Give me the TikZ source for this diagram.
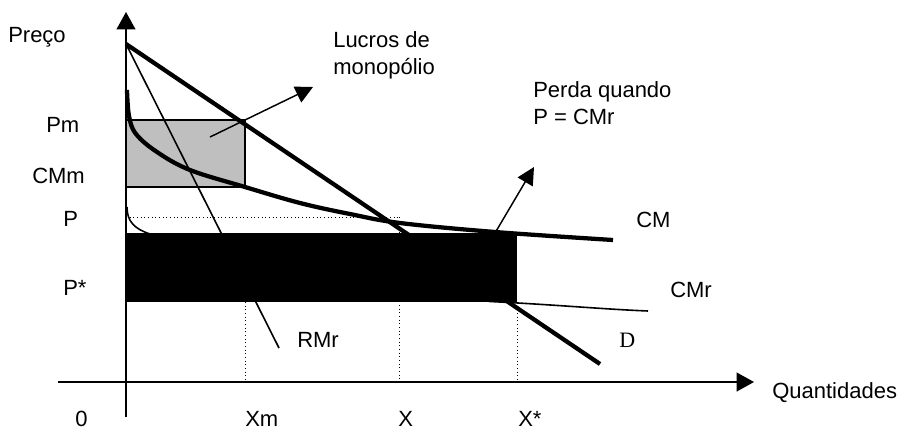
\documentclass[tikz,border=0pt]{standalone}
\usepackage{fontspec}
\setmainfont{Liberation Sans}
\newfontfamily\dfont{Liberation Serif}
\usetikzlibrary{arrows.meta}
\definecolor{lucro}{gray}{0.75}

\begin{document}
\begin{tikzpicture}[x=0.75pt,y=-0.75pt]

\tikzstyle{lbl} = [anchor=base west, inner sep=0pt, font=\fontsize{16.5}{20.25}\selectfont, align=left]
\tikzstyle{axis} = [line width=1.5pt, -{Triangle[length=13pt,width=14pt]}]
\tikzstyle{thickcurve} = [line width=3.2pt]
\tikzstyle{thincurve} = [line width=1.2pt]
\tikzstyle{guide} = [dotted, line width=0.75pt]
\tikzstyle{pointer} = [line width=1.1pt, -{Triangle[length=13pt,width=13pt]}]

\useasboundingbox (0,0) rectangle (913,431);

    \coordinate (O) at (126,382);
    \coordinate (ytop) at (126,12);
    \coordinate (ybot) at (126,417);
    \coordinate (xleft) at (58,382);
    \coordinate (xright) at (754,382);
    \coordinate (Dtop) at (126,44);
    \coordinate (Dend) at (600,364);
    \coordinate (RMrend) at (279,348);
    \coordinate (lucroFrom) at (210,137);
    \coordinate (lucroTip) at (313,87);
    \coordinate (perdaFrom) at (495,233);
    \coordinate (perdaTip) at (534,167);

    \filldraw [fill=lucro, draw=black, line width=1.1pt] (126,120) rectangle (245,187);

    \draw [guide] (126,217) -- (399,217);
    \draw [guide] (245,302) -- (245,382);
    \draw [guide] (399,217) -- (399,382);
    \draw [guide] (517,302) -- (517,382);

    \draw [thickcurve] (Dtop) -- (Dend);
    \draw [thincurve] (Dtop) -- (RMrend);
    \draw [thincurve] (127,207) .. controls (127,222) and (135,229) .. (150,234) -- (490,301.5) .. controls (560,305) and (600,309) .. (648,311);

    \fill (126,233) rectangle (517,302);

    \draw [thickcurve] plot [smooth, tension=0.6] coordinates {(127,90) (129,116) (136,134) (157,152) (190,170) (245,187) (300,203) (350,214) (400,223) (495,232) (613,240)};

    \draw [axis] (ybot) -- (ytop);
    \draw [axis] (xleft) -- (xright);

    \draw [pointer] (lucroFrom) -- (lucroTip);
    \draw [pointer] (perdaFrom) -- (perdaTip);

    \node [lbl] (preco) at (8,43) {Preço};
    \node [lbl] (pm) at (46,133) {Pm};
    \node [lbl] (cmm) at (32,183) {CMm};
    \node [lbl] (p) at (63,226) {P};
    \node [lbl] (pstar) at (63,295) {P*};
    \node [lbl] (zero) at (75,426) {0};
    \node [lbl] (xm) at (245,426) {Xm};
    \node [lbl] (x) at (398,426) {X};
    \node [lbl] (xstar) at (518,426) {X*};
    \node [lbl] (quant) at (772,398) {Quantidades};
    \node [lbl] (cm) at (636,227) {CM};
    \node [lbl] (cmr) at (670,297) {CMr};
    \node [lbl] (d) at (619,347) {\dfont D};
    \node [lbl] (rmr) at (297,347) {RMr};
    \node [lbl] (lucros) at (333,75) {Lucros de\\monopólio};
    \node [lbl] (perda) at (533,125) {Perda quando\\P = CMr};

\end{tikzpicture}
\end{document}
